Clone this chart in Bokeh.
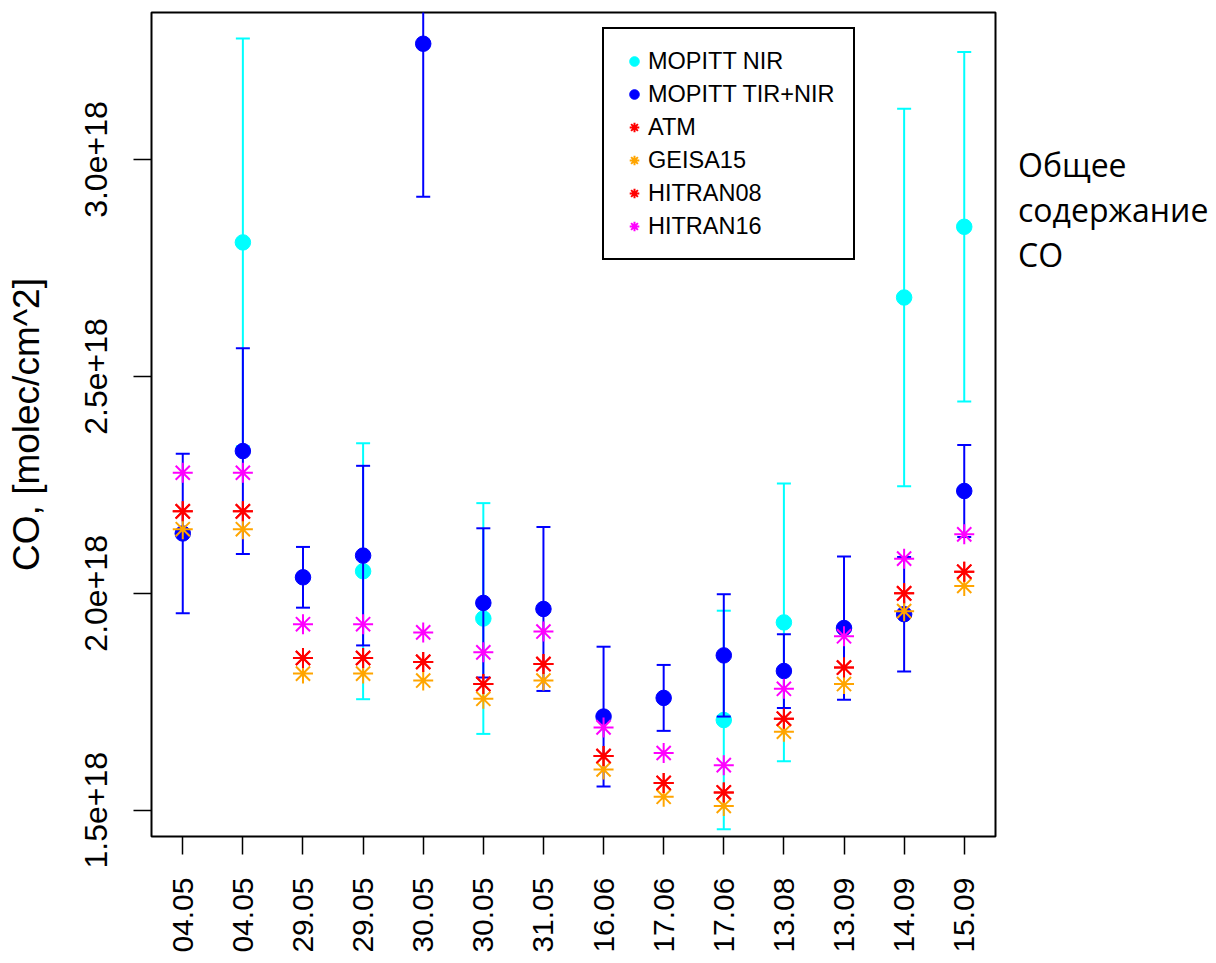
import numpy as np
from math import pi
from bokeh.plotting import figure
from bokeh.layouts import row
from bokeh.models import (Range1d, FixedTicker, CustomJSTickFormatter, Legend,
                          LegendItem, ColumnDataSource, Div)
from bokeh.embed import file_html
from bokeh.resources import INLINE

# ---------------- data (values in units of 1e18 molec/cm^2) ----------------
dates = ["04.05", "04.05", "29.05", "29.05", "30.05", "30.05", "31.05",
         "16.06", "17.06", "17.06", "13.08", "13.09", "14.09", "15.09"]

nan = float("nan")
mopitt_nir = [nan, 2.809, nan, 2.051, nan, 1.942, nan,
              nan, nan, 1.708, 1.933, nan, 2.682, 2.845]
mopitt_nir_err = [nan, 0.470, nan, 0.295, nan, 0.266, nan,
                  nan, nan, 0.252, 0.320, nan, 0.435, 0.403]

mopitt_tir_nir = [2.138, 2.328, 2.037, 2.087, 3.267, 1.978, 1.964,
                  1.716, 1.759, 1.857, 1.821, 1.920, 1.952, 2.236]
mopitt_tir_nir_err = [0.184, 0.237, 0.070, 0.207, 0.353, 0.172, 0.189,
                      0.161, 0.076, 0.141, 0.085, 0.165, 0.132, 0.106]

atm = [2.189, 2.189, 1.851, 1.851, 1.842, 1.791, 1.837,
       1.625, 1.563, 1.541, 1.711, 1.829, 2.000, 2.050]
geisa15 = [2.148, 2.148, 1.815, 1.815, 1.799, 1.757, 1.799,
           1.594, 1.531, 1.510, 1.681, 1.791, 1.959, 2.017]
hitran08 = [2.189, 2.189, 1.851, 1.851, 1.842, 1.791, 1.837,
            1.625, 1.563, 1.541, 1.711, 1.829, 2.000, 2.050]
hitran16 = [2.278, 2.278, 1.929, 1.929, 1.910, 1.864, 1.912,
            1.691, 1.632, 1.604, 1.780, 1.901, 2.080, 2.136]

y_ticks = [1.5, 2.0, 2.5, 3.0]
caption_lines = ["Общее", "содержание", "CO"]
SCALE = 1e18

# ---------------- figure ----------------
p = figure(width=1000, height=955, output_backend="svg", toolbar_location=None,
           x_range=Range1d(0.48, 14.52), y_range=Range1d(1.4395 * SCALE, 3.339 * SCALE),
           min_border_left=151, min_border_right=5, min_border_top=12,
           min_border_bottom=117)
p.grid.visible = False
p.outline_line_color = "black"
p.outline_line_width = 2
p.outline_line_alpha = 1
p.background_fill_color = "white"
p.border_fill_color = "white"

xpos = np.arange(1, len(dates) + 1)


def whiskers(vals, errs, color):
    v = np.array(vals) * SCALE
    e = np.array(errs) * SCALE
    m = ~np.isnan(v)
    src = ColumnDataSource(dict(x=xpos[m], y=v[m], lo=(v - e)[m], hi=(v + e)[m]))
    p.segment(x0="x", y0="lo", x1="x", y1="hi", source=src, line_color=color, line_width=2)
    p.scatter(x="x", y="lo", source=src, marker="dash", size=14, line_color=color, line_width=2)
    p.scatter(x="x", y="hi", source=src, marker="dash", size=14, line_color=color, line_width=2)
    return src


src_nir = whiskers(mopitt_nir, mopitt_nir_err, "#00FFFF")
r_nir = p.scatter(x="x", y="y", source=src_nir, marker="circle", size=15.5,
                  fill_color="#00FFFF", line_color="#00FFFF")
src_tir = whiskers(mopitt_tir_nir, mopitt_tir_nir_err, "#0000FF")
r_tir = p.scatter(x="x", y="y", source=src_tir, marker="circle", size=15.5,
                  fill_color="#0000FF", line_color="#0000FF")


def stars(vals, color):
    return p.scatter(x=xpos, y=np.array(vals) * SCALE, marker="asterisk", size=20,
                     line_color=color, line_width=2)


r_atm = stars(atm, "#FF0000")
r_geisa = stars(geisa15, "#FFA500")
r_h08 = stars(hitran08, "#FF0000")
r_h16 = stars(hitran16, "#FF00FF")

# ---------------- axes ----------------
xa = p.xaxis[0]
xa.ticker = FixedTicker(ticks=list(range(1, len(dates) + 1)))
xa.major_label_overrides = {i + 1: d for i, d in enumerate(dates)}
xa.major_label_orientation = pi / 2
xa.axis_line_color = None
xa.major_tick_out = 18
xa.major_tick_in = 0
xa.minor_tick_out = 0
xa.minor_tick_in = 0
xa.major_tick_line_color = "black"
xa.major_tick_line_width = 1.5
xa.major_label_text_font = "Liberation Sans"
xa.major_label_text_font_size = "30px"
xa.major_label_text_color = "black"
xa.major_label_standoff = 23

ya = p.yaxis[0]
ya.ticker = FixedTicker(ticks=[t * SCALE for t in y_ticks])
ya.formatter = CustomJSTickFormatter(code="return tick.toExponential(1);")
ya.major_label_orientation = "parallel"
ya.axis_line_color = None
ya.major_tick_out = 18
ya.major_tick_in = 0
ya.minor_tick_out = 0
ya.minor_tick_in = 0
ya.major_tick_line_color = "black"
ya.major_tick_line_width = 1.5
ya.major_label_text_font = "Liberation Sans"
ya.major_label_text_font_size = "32px"
ya.major_label_text_color = "black"
ya.major_label_standoff = 26
ya.axis_label = "CO, [molec/cm^2]"
ya.axis_label_text_font = "Liberation Sans"
ya.axis_label_text_font_size = "37px"
ya.axis_label_text_font_style = "normal"
ya.axis_label_text_color = "black"
ya.axis_label_standoff = 36

# ---------------- legend ----------------
legend = Legend(items=[
    LegendItem(label="MOPITT NIR", renderers=[r_nir]),
    LegendItem(label="MOPITT TIR+NIR", renderers=[r_tir]),
    LegendItem(label="ATM", renderers=[r_atm]),
    LegendItem(label="GEISA15", renderers=[r_geisa]),
    LegendItem(label="HITRAN08", renderers=[r_h08]),
    LegendItem(label="HITRAN16", renderers=[r_h16]),
], location=(451, 576))
legend.margin = 0
legend.padding = 18
legend.spacing = 5
legend.glyph_width = 24
legend.glyph_height = 28
legend.label_height = 28
legend.label_standoff = 2
legend.label_text_font = "Liberation Sans"
legend.label_text_font_size = "23.5px"
legend.label_text_color = "black"
legend.border_line_color = "black"
legend.border_line_width = 2
legend.border_line_alpha = 1
legend.background_fill_color = "white"
legend.background_fill_alpha = 1
p.add_layout(legend)

# ---------------- side caption ----------------
caption = Div(text="<br>".join(caption_lines), width=210, height=300,
              styles={"font-family": "'Open Sans'", "font-size": "32px",
                      "line-height": "45px", "color": "black",
                      "padding-top": "137px", "padding-left": "13px",
                      "white-space": "nowrap"})

layout = row(p, caption)
open("out.html", "w").write(file_html(layout, INLINE))
